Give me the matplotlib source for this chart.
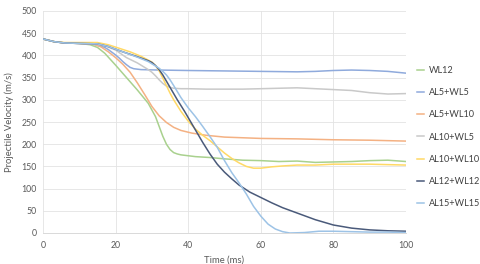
import matplotlib
matplotlib.use("Agg")
import matplotlib.pyplot as plt

# ==========================================
# Data
# ==========================================
t_wl12 = [0, 3, 6, 10, 13, 15, 17, 20, 23, 26, 29, 31, 32, 33, 34, 35, 36, 37, 38, 40, 42, 46, 50, 55, 60, 65, 70, 75, 80, 85, 90, 95, 100]
v_wl12 = [437, 431, 428, 427, 424, 418, 405, 378, 350, 322, 292, 262, 240, 218, 200, 188, 181, 178, 176, 174, 172, 170, 167, 164, 163, 161, 162, 159, 160, 161, 163, 164, 161]

t_al5wl5 = [0, 3, 6, 10, 14, 17, 18, 19, 20, 21, 22, 23, 24, 25, 27, 32, 40, 50, 60, 70, 75, 80, 85, 90, 95, 100]
v_al5wl5 = [437, 431, 428, 427, 425, 418, 413, 407, 401, 394, 386, 379, 373, 370, 368, 367, 366, 365, 364, 363, 364, 366, 367, 366, 364, 360]

t_al5wl10 = [0, 3, 6, 10, 14, 16, 18, 20, 22, 24, 26, 28, 30, 32, 34, 36, 38, 41, 45, 50, 60, 70, 80, 90, 100]
v_al5wl10 = [437, 431, 428, 427, 425, 419, 408, 395, 380, 362, 338, 312, 285, 264, 249, 238, 231, 225, 220, 216, 213, 212, 210, 209, 207]

t_al10wl5 = [0, 3, 6, 10, 14, 17, 20, 23, 26, 29, 30, 31, 32, 33, 34, 35, 36, 38, 40, 45, 50, 55, 60, 65, 70, 75, 80, 85, 90, 95, 100]
v_al10wl5 = [437, 431, 428, 427, 426, 422, 412, 395, 383, 368, 362, 354, 345, 337, 331, 328, 326, 325, 325, 324, 324, 324, 325, 326, 327, 325, 323, 321, 316, 313, 314]

t_al10wl10 = [0, 3, 6, 10, 15, 18, 21, 24, 27, 30, 31, 32, 33, 34, 35, 36, 37, 38, 40, 42, 44, 46, 48, 50, 52, 54, 56, 58, 60, 63, 66, 70, 75, 80, 90, 100]
v_al10wl10 = [437, 431, 429, 429, 429, 424, 416, 408, 398, 385, 377, 365, 349, 332, 315, 300, 287, 274, 252, 234, 220, 208, 194, 180, 168, 158, 150, 146, 146, 149, 151, 153, 153, 155, 155, 153]

t_al12wl12 = [0, 3, 6, 10, 15, 18, 22, 26, 29, 30, 31, 32, 33, 34, 35, 36, 37, 38, 39, 40, 42, 44, 46, 48, 50, 52, 54, 57, 60, 63, 66, 70, 75, 80, 85, 90, 95, 100]
v_al12wl12 = [437, 431, 428, 427, 426, 420, 408, 397, 388, 384, 377, 368, 356, 342, 328, 314, 300, 287, 274, 260, 232, 204, 178, 155, 137, 122, 108, 92, 80, 68, 57, 45, 30, 18, 11, 7, 5, 4]

t_al15wl15 = [0, 3, 6, 10, 15, 18, 22, 26, 29, 31, 32, 33, 34, 35, 36, 38, 40, 42, 44, 46, 48, 50, 52, 54, 56, 58, 60, 62, 64, 66, 68, 72, 76, 80, 85, 90, 95, 100]
v_al15wl15 = [437, 431, 428, 427, 426, 420, 408, 396, 386, 376, 371, 364, 356, 345, 332, 305, 282, 262, 240, 217, 193, 163, 136, 113, 88, 60, 38, 20, 9, 3, 0, 1, 4, 4, 3, 2, 2, 1]

labels = ['WL12', 'AL5+WL5', 'AL5+WL10', 'AL10+WL5', 'AL10+WL10', 'AL12+WL12', 'AL15+WL15']
colors = ['#A9D18E', '#8FAADC', '#F4B183', '#C9C9C9', '#FFD966', '#4A5A7A', '#9DC3E6']
series = [
    (t_wl12, v_wl12),
    (t_al5wl5, v_al5wl5),
    (t_al5wl10, v_al5wl10),
    (t_al10wl5, v_al10wl5),
    (t_al10wl10, v_al10wl10),
    (t_al12wl12, v_al12wl12),
    (t_al15wl15, v_al15wl15),
]

x_ticks = [0, 20, 40, 60, 80, 100]
y_ticks = [0, 50, 100, 150, 200, 250, 300, 350, 400, 450, 500]

# ==========================================
# Plot
# ==========================================
plt.rcParams['font.family'] = ['Lato', 'DejaVu Sans']
text_col = '#595959'

fig = plt.figure(figsize=(4.8, 2.64), dpi=100)
ax = fig.add_axes([43 / 480, 1 - 233 / 264, (406 - 43) / 480, (233 - 11) / 264])

for (t, v), lab, c in zip(series, labels, colors):
    ax.plot(t, v, color=c, linewidth=1.1, label=lab, solid_joinstyle='round')

ax.set_xlim(0, 100)
ax.set_ylim(0, 500)
ax.set_xticks(x_ticks)
ax.set_yticks(y_ticks)
ax.tick_params(length=0, labelsize=6.3, colors=text_col)
ax.tick_params(axis='y', pad=4.5)
ax.tick_params(axis='x', pad=6)
ax.grid(True, color='#E3E3E3', linewidth=0.6)
ax.set_axisbelow(True)
for s in ax.spines.values():
    s.set_visible(False)
ax.spines['bottom'].set_visible(True)
ax.spines['bottom'].set_color('#D9D9D9')
ax.spines['bottom'].set_linewidth(0.7)

ax.set_xlabel('Time (ms)', fontsize=6.8, color=text_col, labelpad=4)
ax.set_ylabel('Projectile Velocity (m/s)', fontsize=6.8, color=text_col, labelpad=5)

fig.legend(loc='upper left', bbox_to_anchor=(417 / 480, 1 - 66 / 264), frameon=False,
           fontsize=6.6, labelcolor='#404040', handlelength=0.75, handletextpad=0.55,
           labelspacing=1.44, borderpad=0, borderaxespad=0)

plt.savefig('out.png', dpi=100)
plt.close()
